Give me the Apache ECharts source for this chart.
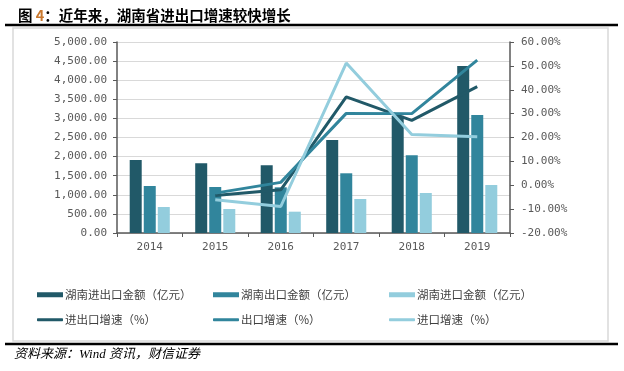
<!DOCTYPE html>
<html>
<head>
<meta charset="utf-8">
<script src="https://cdn.jsdelivr.net/npm/echarts@6/dist/echarts.min.js"></script>
<style>
html,body{margin:0;padding:0;background:#fff;}
#c{width:624px;height:371px;}
</style>
</head>
<body>
<div id="c"></div>
<script>
const years = ['2014','2015','2016','2017','2018','2019'];
const totalAmt = [1911, 1824, 1772, 2435, 3070, 4372];
const exportAmt = [1230, 1204, 1196, 1563, 2034, 3089];
const importAmt = [680, 628, 558, 890, 1047, 1257];
const totalGrowth = [null, -4.3, -1.9, 37.0, 27.2, 41.3];
const exportGrowth = [null, -3.3, 1.2, 30.1, 30.0, 52.4];
const importGrowth = [null, -6.1, -8.9, 51.2, 21.3, 20.3];
const seriesNames = ['湖南进出口金额（亿元）','湖南出口金额（亿元）','湖南进口金额（亿元）','进出口增速（%）','出口增速（%）','进口增速（%）'];

const cDark = '#215968', cMid = '#31859c', cLight = '#93cddd';
const monoFont = 'DejaVu Sans Mono';
const cjkFont = 'Noto Sans CJK SC';

function fmtAmt(v){
  const s = Math.round(v).toString().replace(/\B(?=(\d{3})+(?!\d))/g, ',');
  return s + '.00';
}

const chart = echarts.init(document.getElementById('c'));

function legendAt(name, left, top, isLine){
  return {
    data:[name], left:left, top:top, orient:'horizontal',
    itemWidth:26, itemHeight:isLine?3:5, icon: isLine?'roundRect':'rect',
    itemGap:0, padding:0,
    textStyle:{fontFamily:cjkFont, fontSize:11.5, color:'#404040', padding:[0,0,0,-3]}
  };
}

chart.setOption({
  animation:false,
  title:{
    text:'{a|图 }{b|4}{a|：近年来，湖南省进出口增速较快增长}',
    left:13, top:3,
    textStyle:{rich:{
      a:{fontFamily:cjkFont, fontSize:14.5, fontWeight:'bold', color:'#000'},
      b:{fontFamily:cjkFont, fontSize:14.5, fontWeight:'bold', color:'#c9782e'}
    }}
  },
  legend:[
    legendAt(seriesNames[0], 37, 289, false),
    legendAt(seriesNames[1], 213, 289, false),
    legendAt(seriesNames[2], 389, 289, false),
    legendAt(seriesNames[3], 37, 314, true),
    legendAt(seriesNames[4], 213, 314, true),
    legendAt(seriesNames[5], 389, 314, true)
  ],
  grid:{left:117, right:114, top:42, bottom:138, containLabel:false},
  xAxis:{
    type:'category', data:years,
    axisLine:{lineStyle:{color:'#595959', width:1.5}},
    axisTick:{show:true, alignWithLabel:false, length:4, lineStyle:{color:'#595959'}},
    axisLabel:{fontFamily:monoFont, fontSize:11, color:'#595959', margin:9}
  },
  yAxis:[
    {
      type:'value', min:0, max:5000, interval:500,
      axisLine:{show:true, lineStyle:{color:'#595959', width:1.5}},
      axisTick:{show:true, length:4, lineStyle:{color:'#595959'}},
      splitLine:{show:true, lineStyle:{color:'#d9d9d9', width:1}},
      axisLabel:{fontFamily:monoFont, fontSize:11, color:'#595959', margin:10, formatter:fmtAmt}
    },
    {
      type:'value', min:-20, max:60, interval:10,
      axisLine:{show:true, lineStyle:{color:'#595959', width:1.5}},
      axisTick:{show:true, length:4, lineStyle:{color:'#595959'}},
      splitLine:{show:false},
      axisLabel:{fontFamily:monoFont, fontSize:11, color:'#595959', margin:11,
        formatter:function(v){return v.toFixed(2)+'%';}}
    }
  ],
  series:[
    {name:seriesNames[0], type:'bar', data:totalAmt, barWidth:12, barGap:'17%', itemStyle:{color:cDark}},
    {name:seriesNames[1], type:'bar', data:exportAmt, barWidth:12, barGap:'17%', itemStyle:{color:cMid}},
    {name:seriesNames[2], type:'bar', data:importAmt, barWidth:12, barGap:'17%', itemStyle:{color:cLight}},
    {name:seriesNames[3], type:'line', yAxisIndex:1, data:totalGrowth, showSymbol:false, symbol:'none', lineStyle:{color:cDark, width:3}, itemStyle:{color:cDark}, z:5},
    {name:seriesNames[4], type:'line', yAxisIndex:1, data:exportGrowth, showSymbol:false, symbol:'none', lineStyle:{color:cMid, width:3}, itemStyle:{color:cMid}, z:5},
    {name:seriesNames[5], type:'line', yAxisIndex:1, data:importGrowth, showSymbol:false, symbol:'none', lineStyle:{color:cLight, width:3}, itemStyle:{color:cLight}, z:5}
  ],
  graphic:[
    {type:'line', shape:{x1:5, y1:25, x2:618, y2:25}, style:{stroke:'#000', lineWidth:2.5}, silent:true},
    {type:'rect', shape:{x:13, y:28, width:595, height:313}, style:{fill:'none', stroke:'#d9d9d9', lineWidth:1.5}, silent:true},
    {type:'line', shape:{x1:5, y1:344, x2:618, y2:344}, style:{stroke:'#000', lineWidth:2.5}, silent:true},
    {type:'text', left:14, top:348, style:{text:'资料来源：Wind 资讯，财信证券', fontFamily:'Liberation Serif, Noto Sans CJK SC', fontSize:13, fontStyle:'italic', fill:'#000'}, silent:true}
  ]
});
</script>
</body>
</html>
